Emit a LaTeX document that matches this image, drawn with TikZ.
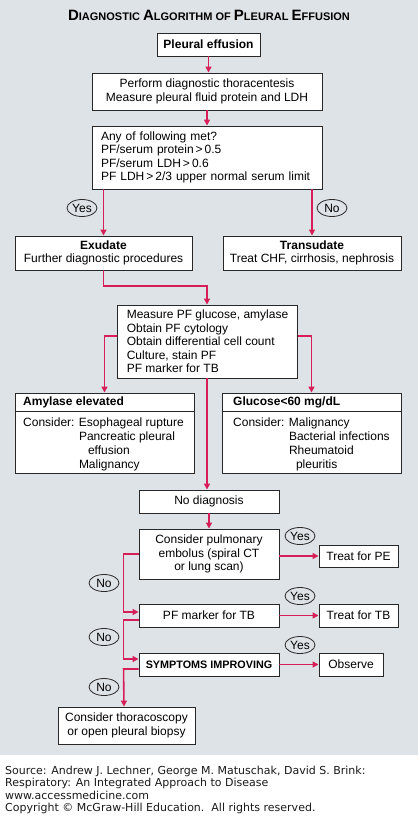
\documentclass[tikz,border=0pt]{standalone}
\usepackage{fontspec}
\setmainfont{Liberation Sans}
\newfontfamily\srcfont{DejaVu Sans}
\usetikzlibrary{arrows.meta,shapes.geometric}
\definecolor{bg}{RGB}{222,227,231}
\definecolor{arrc}{RGB}{214,31,88}
\definecolor{bord}{RGB}{40,40,40}
\newcommand\Bc[1]{{\fontsize{15}{16}\selectfont #1}}
\begin{document}
\begin{tikzpicture}[x=1pt,y=-1pt,
 box/.style={draw=bord,line width=0.9pt,fill=white,inner sep=0pt,font=\fontsize{12}{13.5}\selectfont,align=center},
 txt/.style={inner sep=0pt,font=\fontsize{12}{13.7}\selectfont,align=left},
 arr/.style={draw=arrc,line width=1.6pt,-{Triangle[length=6pt,width=6pt]}},
 lab/.style={draw=bord,line width=0.8pt,ellipse,inner sep=0pt,minimum width=30pt,minimum height=17pt,font=\fontsize{12}{12}\selectfont},
 ]
\fill[bg] (0,0) rectangle (418,755);
\useasboundingbox (0,0) rectangle (418,817);

\node (title) at (209,15) {\bfseries\fontsize{11}{12}\selectfont \Bc{D}IAGNOSTIC \Bc{A}LGORITHM OF \Bc{P}LEURAL \Bc{E}FFUSION};

\node[box,minimum width=103pt,minimum height=23pt] (pe) at (208.5,44.5) {\textbf{Pleural effusion}};
\node[box,minimum width=230pt,minimum height=37pt] (thor) at (207,91.5) {Perform diagnostic thoracentesis\\Measure pleural fluid protein and LDH};
\node[box,align=left,text width=212pt,inner xsep=9pt,minimum height=63pt] (crit) at (207,157.5) {Any of following met?\\PF/serum protein\,>\,0.5\\PF/serum LDH\,>\,0.6\\PF LDH\,>\,2/3 upper normal serum limit};
\node[box,minimum width=177pt,minimum height=34pt] (exu) at (103.5,253) {\textbf{Exudate}\\Further diagnostic procedures};
\node[box,minimum width=178pt,minimum height=34pt] (tra) at (312,253) {\textbf{Transudate}\\Treat CHF, cirrhosis, nephrosis};
\node[lab] (yes1) at (82,208) {Yes};
\node[lab] (no1) at (332,208) {No};

\node[box,align=left,minimum width=180pt,minimum height=73pt] (meas) at (207.5,341.5) {Measure PF glucose, amylase\\Obtain PF cytology\\Obtain differential cell count\\Culture, stain PF\\PF marker for TB};

\node[box,minimum width=179pt,minimum height=80pt] (amy) at (104.5,433) {};
\node[box,minimum width=179pt,minimum height=80pt] (glu) at (311.5,433) {};
\draw[draw=bord,line width=0.9pt] ([yshift=-19pt]amy.north west) -- ([yshift=-19pt]amy.north east);
\draw[draw=bord,line width=0.9pt] ([yshift=-19pt]glu.north west) -- ([yshift=-19pt]glu.north east);
\node[txt,anchor=west] (amyh) at (23,402.5) {\textbf{Amylase elevated}};
\node[txt,anchor=west] (gluh) at (233,402.5) {\textbf{Glucose<60 mg/dL}};
\node[txt,anchor=north west] (amyb) at (23,418) {Consider: Esophageal rupture\\\phantom{Consider: }Pancreatic pleural\\\phantom{Consider: }\hspace{9pt}effusion\\\phantom{Consider: }Malignancy};
\node[txt,anchor=north west] (glub) at (233,418) {Consider: Malignancy\\\phantom{Consider: }Bacterial infections\\\phantom{Consider: }Rheumatoid\\\phantom{Consider: }\hspace{7pt}pleuritis};

\node[box,minimum width=140pt,minimum height=23pt] (nodx) at (209,501.5) {No diagnosis};
\node[box,minimum width=140pt,minimum height=50pt] (pe2) at (209,554) {Consider pulmonary\\embolus (spiral CT\\or lung scan)};
\node[box,minimum width=140pt,minimum height=23pt] (tb) at (209,615.5) {PF marker for TB};
\node[box,minimum width=140pt,minimum height=23pt,font=\bfseries\fontsize{10.8}{12}\selectfont] (sym) at (209,664.5) {SYMPTOMS IMPROVING};
\node[box,minimum width=79pt,minimum height=22pt] (tpe) at (358.5,556) {Treat for PE};
\node[box,minimum width=79pt,minimum height=23pt] (ttb) at (358.5,615.5) {Treat for TB};
\node[box,minimum width=64pt,minimum height=23pt] (obs) at (351,664.5) {Observe};
\node[box,minimum width=137pt,minimum height=37pt] (final) at (126.5,725.5) {Consider thoracoscopy\\or open pleural biopsy};

\node[lab] (yes2) at (300,536) {Yes};
\node[lab] (yes3) at (300,596) {Yes};
\node[lab] (yes4) at (300,645) {Yes};
\node[lab] (no2) at (104,583) {No};
\node[lab] (no3) at (104,637) {No};
\node[lab] (no4) at (104,687) {No};

\coordinate (j1) at (207,286);
\draw[arr] (pe.south) -- (pe.south |- thor.north);
\draw[arr] (thor.south) -- (crit.north);
\draw[arr] (crit.south -| exu.north) -- (exu.north);
\draw[arr] (crit.south -| tra.north) -- (tra.north);
\draw[arr] (exu.south) |- (j1) -- (j1 |- meas.north);
\draw[arr] ([yshift=5.5pt]meas.west) -| (amy.north);
\draw[arr] ([yshift=5.5pt]meas.east) -| (glu.north);
\draw[arr] (j1 |- meas.south) -- (j1 |- nodx.north);
\draw[arr] (nodx.south) -- (pe2.north);
\draw[arr] (pe2.east |- tpe.west) -- (tpe.west);
\draw[arr] (tb.east) -- (ttb.west);
\draw[arr] (sym.east) -- (obs.west);
\draw[arr] (pe2.west) -- ++(-15,0) |- ([yshift=3.5pt]tb.west);
\draw[arr] ([yshift=-4.5pt]tb.west) -- ++(-15,0) |- ([yshift=5.5pt]sym.west);
\draw[arr] ([yshift=-4.5pt]sym.west) -- ++(-15,0) -- ([xshift=-2.5pt]final.north);

\node[anchor=north west,inner sep=0pt,align=left,font=\srcfont\fontsize{11}{12.3}\selectfont,text=black!90] (src) at (5,766) {Source: Andrew J. Lechner, George M. Matuschak, David S. Brink:\\Respiratory: An Integrated Approach to Disease\\www.accessmedicine.com\\Copyright © McGraw-Hill Education.\ \ All rights reserved.};
\end{tikzpicture}
\end{document}
